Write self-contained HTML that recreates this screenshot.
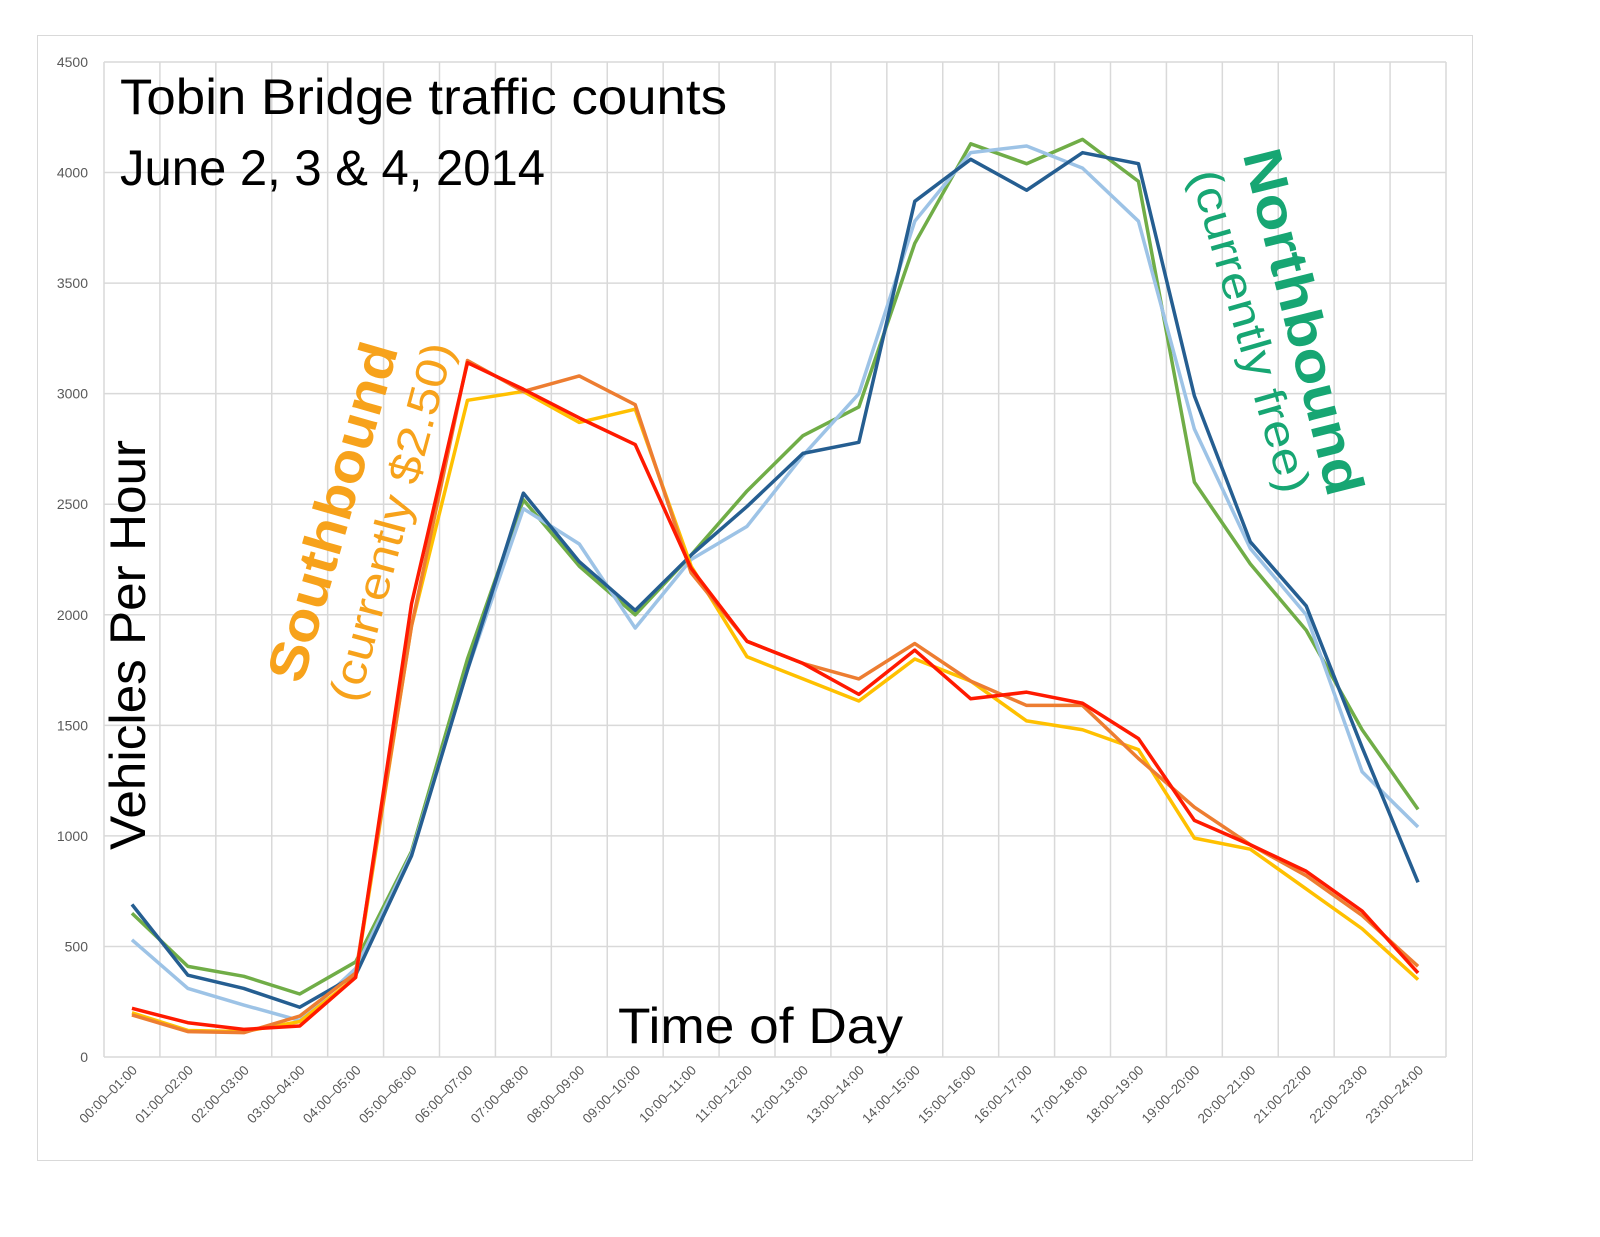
<!DOCTYPE html>
<html><head><meta charset="utf-8"><style>
html,body{margin:0;padding:0;background:#fff;}
svg{display:block;font-family:"Liberation Sans",sans-serif;}
</style></head><body>
<svg id="chart" width="1600" height="1237" viewBox="0 0 1600 1237">
<rect x="37.5" y="35.5" width="1435" height="1125" fill="#fff" stroke="#d9d9d9"/>
<g id="grid"></g>
<g id="ylabels"></g>
<g id="xlabels"></g>
<g id="series"></g>
<text x="120" y="114" font-size="50" textLength="607" lengthAdjust="spacingAndGlyphs" fill="#000">Tobin Bridge traffic counts</text>
<text x="120" y="185" font-size="50" textLength="425" lengthAdjust="spacingAndGlyphs" fill="#000">June 2, 3 &amp; 4, 2014</text>
<text transform="translate(128,645) rotate(-90)" text-anchor="middle" dominant-baseline="central" font-size="50" textLength="410" lengthAdjust="spacingAndGlyphs" fill="#000">Vehicles Per Hour</text>
<text x="618" y="1043" font-size="50" textLength="285" lengthAdjust="spacingAndGlyphs" fill="#000">Time of Day</text>
<text transform="translate(333,512) rotate(-74)" text-anchor="middle" dominant-baseline="central" font-size="54" font-weight="bold" textLength="350" lengthAdjust="spacingAndGlyphs" fill="#f7a21b">Southbound</text>
<text transform="translate(392,522) rotate(-75)" text-anchor="middle" dominant-baseline="central" font-size="44" textLength="370" lengthAdjust="spacingAndGlyphs" fill="#f7a21b">(currently $2.50)</text>
<text transform="translate(1303,322) rotate(76)" text-anchor="middle" dominant-baseline="central" font-size="54" font-weight="bold" textLength="355" lengthAdjust="spacingAndGlyphs" fill="#17a673">Northbound</text>
<text transform="translate(1250,331) rotate(74)" text-anchor="middle" dominant-baseline="central" font-size="44" textLength="334" lengthAdjust="spacingAndGlyphs" fill="#17a673">(currently free)</text>
</svg>
<script>
const categories=["00:00–01:00","01:00–02:00","02:00–03:00","03:00–04:00","04:00–05:00","05:00–06:00","06:00–07:00","07:00–08:00","08:00–09:00","09:00–10:00","10:00–11:00","11:00–12:00","12:00–13:00","13:00–14:00","14:00–15:00","15:00–16:00","16:00–17:00","17:00–18:00","18:00–19:00","19:00–20:00","20:00–21:00","21:00–22:00","22:00–23:00","23:00–24:00"];
const yTicks=[0,500,1000,1500,2000,2500,3000,3500,4000,4500];
const nbDarkBlue=[690,370,310,225,370,910,1750,2550,2240,2020,2270,2490,2730,2780,3870,4060,3920,4090,4040,2990,2330,2040,1400,790];
const nbGreen=[650,410,365,285,430,930,1800,2520,2220,2000,2270,2560,2810,2940,3680,4130,4040,4150,3960,2600,2230,1930,1480,1120];
const nbLightBlue=[530,310,235,165,400,920,1750,2480,2320,1940,2250,2400,2720,3000,3780,4090,4120,4020,3780,2840,2300,2000,1290,1040];
const sbRed=[220,155,125,140,360,2050,3140,3020,2890,2770,2210,1880,1780,1640,1840,1620,1650,1600,1440,1070,960,840,660,380];
const sbOrange=[190,115,110,185,380,1950,3150,3010,3080,2950,2190,1880,1780,1710,1870,1700,1590,1590,1350,1130,960,820,640,410];
const sbYellow=[200,120,115,160,360,1950,2970,3010,2870,2930,2220,1810,1710,1610,1800,1700,1520,1480,1390,990,940,760,580,350];

const NS="http://www.w3.org/2000/svg";
const L=104,R=1446,T=62,B=1057,yMax=4500;
const bw=(R-L)/categories.length;
function xS(i){return L+bw*(i+0.5);}
function yS(v){return B-(v/yMax)*(B-T);}
function mk(tag,attrs,parent){const e=document.createElementNS(NS,tag);for(const k in attrs)e.setAttribute(k,attrs[k]);parent.appendChild(e);return e;}
const grid=document.getElementById('grid'),yl=document.getElementById('ylabels'),xl=document.getElementById('xlabels'),sg=document.getElementById('series');
yTicks.forEach(t=>{
  const ln=mk('line',{x1:L,x2:R,y1:yS(t),y2:yS(t),stroke:'#d9d9d9','stroke-width':1.5},grid);
  
  
  const tx=mk('text',{x:L-16,y:yS(t)+5,'text-anchor':'end','font-size':14,fill:'#595959'},yl);
  tx.textContent=t;
  
  
});
for(let i=0;i<=categories.length;i++){
  const x=L+bw*i;
  const ln=mk('line',{x1:x,x2:x,y1:T,y2:B,stroke:'#d9d9d9','stroke-width':1.5},grid);
  
  
}
categories.forEach((c,i)=>{
  const x=xS(i)+6,y=B+14;
  const tx=mk('text',{x:x,y:y,'text-anchor':'end','font-size':13.5,fill:'#595959',transform:`rotate(-45 ${x} ${y})`},xl);
  tx.textContent=c;
  
  
});
const seriesList=[[nbGreen,'#70ad47','northbound-day-green'],[nbLightBlue,'#9dc3e6','northbound-day-lightblue'],[nbDarkBlue,'#255e91','northbound-day-darkblue'],[sbYellow,'#ffc000','southbound-day-yellow'],[sbOrange,'#ed7d31','southbound-day-orange'],[sbRed,'#ff1a00','southbound-day-red']];
seriesList.forEach(([d,col,name])=>{
  const p=mk('polyline',{points:d.map((v,i)=>xS(i)+','+yS(v)).join(' '),fill:'none',stroke:col,'stroke-width':3.5,'stroke-linejoin':'round'},sg);
  
  
});
</script>
</body></html>
